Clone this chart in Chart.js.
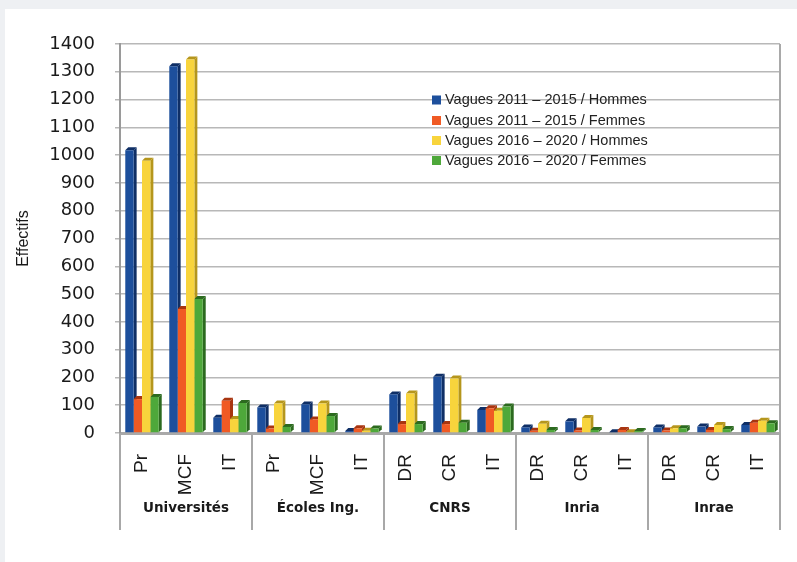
<!DOCTYPE html>
<html>
<head>
<meta charset="utf-8">
<script src="https://cdn.jsdelivr.net/npm/chart.js@4/dist/chart.umd.min.js"></script>
<style>
html,body{margin:0;padding:0;background:#eef0f3;}
#wrap{width:797px;height:562px;position:relative;}
</style>
</head>
<body>
<div id="wrap"><canvas id="c" width="797" height="562"></canvas></div>
<script>
const categories = ['Pr','MCF','IT','Pr','MCF','IT','DR','CR','IT','DR','CR','IT','DR','CR','IT'];
const groups = ['Universités','Écoles Ing.','CNRS','Inria','Inrae'];
const groupSizes = [3,3,3,3,3];
const seriesLabels = ['Vagues 2011 – 2015 / Hommes','Vagues 2011 – 2015 / Femmes','Vagues 2016 – 2020 / Hommes','Vagues 2016 – 2020 / Femmes'];
const hommes1115 = [1018,1320,55, 92,103,7, 139,202,83, 20,42,3, 20,23,29];
const femmes1115 = [122,446,116, 16,49,17, 32,32,89, 8,9,11, 9,11,37];
const hommes1620 = [980,1344,50, 106,106,8, 142,196,80, 33,54,3, 17,29,44];
const femmes1620 = [130,482,108, 22,61,16, 32,37,95, 11,11,7, 17,14,35];
const yTicks = {min:0, max:1400, step:100};

const colors = ['#1d4f9c','#f05a24','#f8d43c','#4ea83a'];
const sideColors = ['#0f2f66','#a83510','#b5961c','#2c6a1f'];

const bgPlugin = {
  id:'bg',
  beforeDraw(chart){
    const ctx = chart.ctx;
    ctx.save();
    ctx.fillStyle = '#eef0f3';
    ctx.fillRect(0,0,chart.width,chart.height);
    ctx.fillStyle = '#ffffff';
    ctx.fillRect(5,9,chart.width-5,chart.height-9);
    ctx.restore();
  }
};

const depth = 3;
const bars3d = {
  id:'bars3d',
  beforeDatasetsDraw(chart){
    const ctx = chart.ctx;
    ctx.save();
    chart.data.datasets.forEach((ds,i)=>{
      const meta = chart.getDatasetMeta(i);
      meta.data.forEach(bar=>{
        const p = bar.getProps(['x','y','base','width'], true);
        const l = p.x - p.width/2, r = p.x + p.width/2;
        ctx.fillStyle = sideColors[i];
        ctx.beginPath();
        ctx.moveTo(r,p.y); ctx.lineTo(r+depth,p.y-depth); ctx.lineTo(r+depth,p.base-depth); ctx.lineTo(r,p.base);
        ctx.closePath(); ctx.fill();
        ctx.beginPath();
        ctx.moveTo(l,p.y); ctx.lineTo(l+depth,p.y-depth); ctx.lineTo(r+depth,p.y-depth); ctx.lineTo(r,p.y);
        ctx.closePath(); ctx.fill();
      });
    });
    ctx.restore();
  }
};

const groupPlugin = {
  id:'groups',
  afterDraw(chart){
    const ctx = chart.ctx, xs = chart.scales.x, area = chart.chartArea;
    ctx.save();
    ctx.strokeStyle = '#a9a9a9';
    ctx.lineWidth = 2;
    ctx.beginPath(); ctx.moveTo(area.right, area.top); ctx.lineTo(area.right, area.bottom); ctx.stroke();
    const step = (xs.right - xs.left)/categories.length;
    let idx = 0;
    const bounds = [xs.left];
    groupSizes.forEach(n=>{ idx += n; bounds.push(xs.left + idx*step); });
    ctx.strokeStyle = '#a8a8a8';
    ctx.lineWidth = 2;
    bounds.forEach(b=>{
      ctx.beginPath(); ctx.moveTo(b, area.bottom); ctx.lineTo(b, 530); ctx.stroke();
    });
    ctx.fillStyle = '#1a1a1a';
    ctx.font = 'bold 13.5px "DejaVu Sans"';
    ctx.textAlign = 'center';
    ctx.textBaseline = 'middle';
    groups.forEach((g,i)=>{
      ctx.fillText(g, (bounds[i]+bounds[i+1])/2, 508);
    });
    ctx.font = '14.5px "Liberation Sans"';
    ctx.textAlign = 'left';
    const rows = [100,120.5,140.5,160.5];
    chart.data.datasets.forEach((ds,i)=>{
      ctx.fillStyle = colors[i];
      ctx.fillRect(432, rows[i]-4.5, 9, 9);
      ctx.fillStyle = '#222';
      ctx.fillText(ds.label, 445, rows[i]);
    });
    ctx.restore();
  }
};

const mk = (i, data) => ({
  label: seriesLabels[i],
  data: data,
  backgroundColor: colors[i],
  borderColor: sideColors[i],
  borderWidth: 0,
  categoryPercentage: 0.76,
  barPercentage: 1.0
});

new Chart(document.getElementById('c'), {
  type: 'bar',
  data: {
    labels: categories,
    datasets: [mk(0,hommes1115), mk(1,femmes1115), mk(2,hommes1620), mk(3,femmes1620)]
  },
  options: {
    responsive: false,
    animation: false,
    devicePixelRatio: 1,
    layout: { padding: { top: 44, right: 17, left: 0, bottom: 0 } },
    plugins: { legend: { display: false }, tooltip: { enabled: false } },
    scales: {
      x: {
        grid: { display: false },
        border: { display: true, color: '#a9a9a9', width: 3 },
        ticks: {
          color: '#1a1a1a',
          font: { family: '"Liberation Sans"', size: 19 },
          maxRotation: 90, minRotation: 90,
          padding: 13,
          autoSkip: false
        },
        afterFit(scale){ scale.height = 129; }
      },
      y: {
        min: yTicks.min, max: yTicks.max,
        grid: { color: '#b8b8b8', lineWidth: 1.5, drawTicks: true, tickLength: 5 },
        border: { display: true, color: '#9a9a9a', width: 2 },
        ticks: {
          stepSize: yTicks.step,
          color: '#1a1a1a',
          font: { family: '"DejaVu Sans"', size: 18 },
          padding: 20,
          callback: (v) => String(v)
        },
        title: {
          display: true, text: 'Effectifs', color: '#1a1a1a',
          font: { family: '"Liberation Sans"', size: 16 },
          padding: { top: 14, bottom: 0 }
        },
        afterFit(scale){ scale.width = 120; }
      }
    }
  },
  plugins: [bgPlugin, bars3d, groupPlugin]
});
</script>
</body>
</html>
